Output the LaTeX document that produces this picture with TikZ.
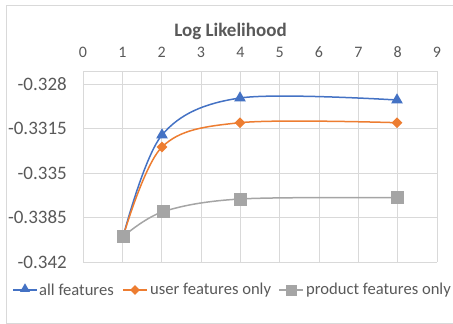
\documentclass[tikz,border=0pt]{standalone}
\usepackage{fontspec}
\setmainfont{Carlito}
\definecolor{cblue}{HTML}{4472C4}
\definecolor{corange}{HTML}{ED7D31}
\definecolor{cgray}{HTML}{A5A5A5}
\definecolor{grid}{HTML}{D9D9D9}
\definecolor{txt}{HTML}{595959}
\tikzset{
  gridline/.style={draw=grid, line width=0.9pt},
  series/.style={line width=1.5pt, smooth, tension=0.55},
  tri/.style={regular polygon, regular polygon sides=3, fill=cblue, inner sep=0pt, minimum size=13.5pt},
  dia/.style={diamond, fill=corange, inner sep=0pt, minimum size=11pt},
  sqr/.style={rectangle, fill=cgray, inner sep=0pt, minimum size=13pt},
  ticklab/.style={text=txt, font=\fontsize{16}{18}\selectfont, inner sep=0pt},
  ylab/.style={text=txt, font=\fontsize{19}{22}\selectfont, inner sep=0pt, anchor=east},
  leglab/.style={text=txt, font=\fontsize{16.6}{19}\selectfont, inner sep=0pt, anchor=west},
}
\usetikzlibrary{shapes.geometric}
\begin{document}
\begin{tikzpicture}[x=1pt,y=-1pt]
\useasboundingbox (0,0) rectangle (453,324);
% outer frame
\draw[grid, line width=0.8pt] (453,5) -- (6,5) -- (6,323) -- (453,323);
% title
\node[text=txt, font=\fontsize{19}{22}\selectfont\bfseries] (title) at (230.5,31) {Log Likelihood};
% grid
\foreach \k in {0,...,9} {
  \draw[gridline] ({83+39.33*\k},71) -- ({83+39.33*\k},262);
  \node[ticklab] (xt\k) at ({83+39.33*\k},52) {\k};
}
\draw[gridline] (83,71) -- (437,71);
\foreach \yy/\lab [count=\i] in {84/-0.328,128.5/-0.3315,173/-0.335,217.5/-0.3385,262/-0.342} {
  \draw[gridline] (83,\yy) -- (437,\yy);
  \node[ylab] (yt\i) at (67,\yy) {\lab};
}
% data coordinates
\coordinate (a1) at (123,237);
\coordinate (a2) at (162,135);
\coordinate (a4) at (240,98);
\coordinate (a8) at (397,100);
\coordinate (u1) at (123,237);
\coordinate (u2) at (162,147);
\coordinate (u4) at (240,122.7);
\coordinate (u8) at (397,122.7);
\coordinate (p1) at (123,236.7);
\coordinate (p2) at (163,211.7);
\coordinate (p4) at (240,199);
\coordinate (p8) at (397,197.7);
% series: all features
\draw[cblue, series] plot coordinates {(a1) (a2) (a4) (a8)};
\foreach \n in {a1,a2,a4,a8} \node[tri] at (\n) {};
% series: user features only
\draw[corange, series] plot coordinates {(u1) (u2) (u4) (u8)};
\foreach \n in {u1,u2,u4,u8} \node[dia] at (\n) {};
% series: product features only
\draw[cgray, series] plot coordinates {(p1) (p2) (p4) (p8)};
\foreach \n in {p1,p2,p4,p8} \node[sqr] at (\n) {};
% legend
\draw[cblue, line width=1.5pt] (13,290) -- (37,290);
\node[tri, minimum size=11.5pt] (la) at (25,289) {};
\node[leglab] (lta) at (39,290) {all features};
\draw[corange, line width=1.5pt] (123,290) -- (147,290);
\node[dia, minimum size=10pt] (lu) at (135,290) {};
\node[leglab] (ltu) at (150,290) {user features only};
\draw[cgray, line width=1.5pt] (279,290) -- (303,290);
\node[sqr, minimum size=11pt] (lp) at (291,290) {};
\node[leglab] (ltp) at (306,290) {product features only};
\end{tikzpicture}
\end{document}
